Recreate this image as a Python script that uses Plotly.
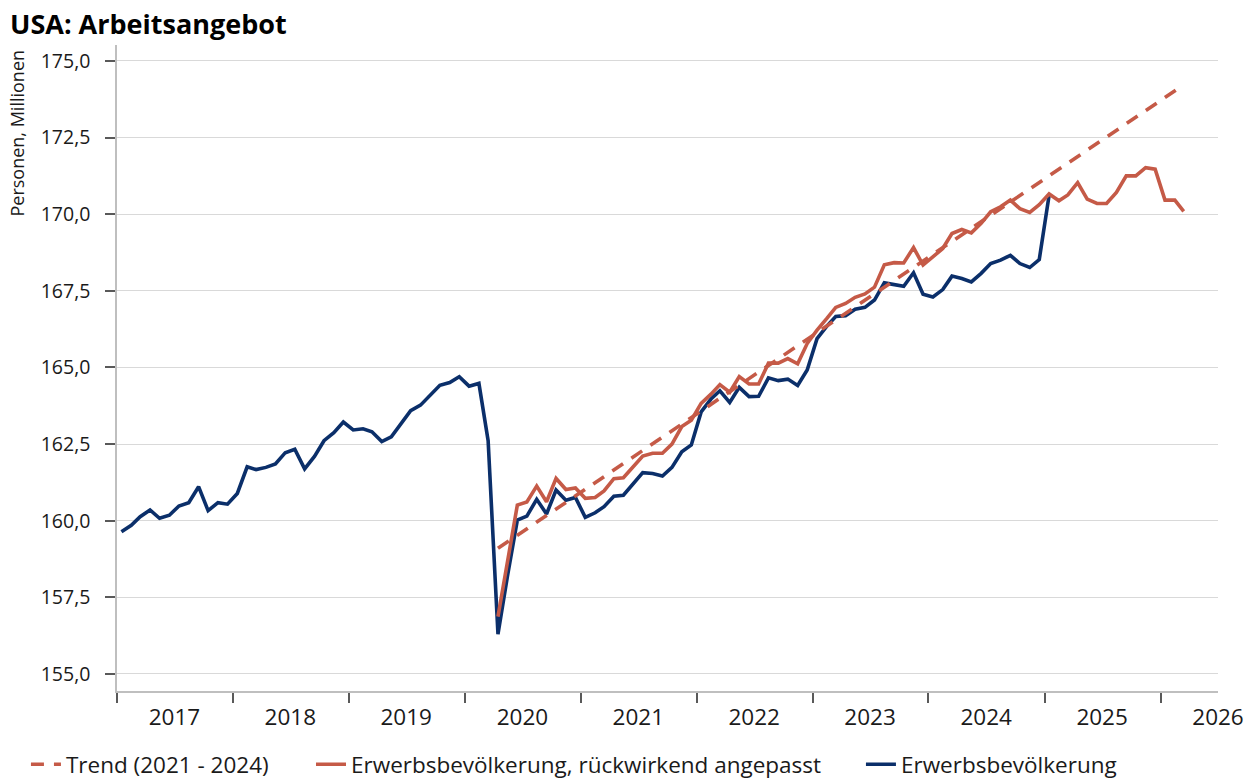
import pandas as pd
import plotly.graph_objects as go

# ---- data (monthly) ----
blue_start = "2017-01"
blue_values = [
    159.64, 159.85, 160.13, 160.35, 160.08, 160.18, 160.48, 160.59, 161.11, 160.33, 160.59, 160.54,  # 2017
    160.89, 161.76, 161.67, 161.74, 161.85, 162.22, 162.33, 161.69, 162.10, 162.61, 162.87, 163.22,  # 2018
    162.96, 163.00, 162.90, 162.58, 162.74, 163.15, 163.59, 163.77, 164.11, 164.42, 164.51, 164.70,  # 2019
    164.39, 164.48, 162.61, 156.30, 158.20, 160.02, 160.15, 160.70, 160.22, 161.00, 160.67, 160.76,  # 2020
    160.11, 160.26, 160.46, 160.80, 160.83, 161.20, 161.57, 161.54, 161.46, 161.74, 162.25, 162.47,  # 2021
    163.55, 163.97, 164.24, 163.86, 164.35, 164.05, 164.06, 164.66, 164.57, 164.62, 164.41, 164.92,  # 2022
    165.94, 166.35, 166.66, 166.69, 166.90, 166.96, 167.20, 167.76, 167.71, 167.65, 168.09, 167.39,  # 2023
    167.30, 167.54, 167.98, 167.90, 167.79, 168.07, 168.39, 168.50, 168.66, 168.39, 168.26, 168.52,  # 2024
    170.62,                                                                                          # 2025-01
]

red_start = "2020-04"
red_values = [
    156.87, 158.70, 160.51, 160.61, 161.13, 160.62, 161.38, 161.02, 161.07,                          # 2020 Apr-Dec
    160.73, 160.76, 160.97, 161.37, 161.40, 161.78, 162.11, 162.20, 162.20, 162.50, 163.07, 163.28,  # 2021
    163.83, 164.13, 164.44, 164.19, 164.70, 164.46, 164.46, 165.14, 165.14, 165.29, 165.12, 165.78,  # 2022
    166.22, 166.60, 166.96, 167.09, 167.29, 167.40, 167.62, 168.35, 168.42, 168.41, 168.91, 168.34,  # 2023
    168.61, 168.88, 169.37, 169.50, 169.39, 169.70, 170.08, 170.24, 170.46, 170.18, 170.06, 170.31,  # 2024
    170.66, 170.44, 170.63, 171.03, 170.49, 170.35, 170.35, 170.71, 171.25, 171.25, 171.52, 171.47,  # 2025
    170.46, 170.46, 170.09,                                                                          # 2026
]

trend_dates = ["2020-04-15", "2026-03-15"]
trend_values = [159.10, 174.22]

years = list(range(2017, 2027))
year_labels = [str(y) for y in years]

name_trend = "Trend (2021 - 2024)"
name_red = "Erwerbsbevölkerung, rückwirkend angepasst"
name_blue = "Erwerbsbevölkerung"

# ---- helpers ----
def month_dates(start, n):
    return pd.date_range(start=start + "-01", periods=n, freq="MS") + pd.Timedelta(days=14)

blue_dates = month_dates(blue_start, len(blue_values))
red_dates = month_dates(red_start, len(red_values))

RED = "#c55a47"
BLUE = "#0b2f6a"
FONT = "Open Sans"
LEG_FONT = dict(size=22.5, color="#1a1a1a", family=FONT)

fig = go.Figure()
fig.add_trace(go.Scatter(x=blue_dates, y=blue_values, mode="lines", name=name_blue,
                         legend="legend3", line=dict(color=BLUE, width=3.6)))
fig.add_trace(go.Scatter(x=red_dates, y=red_values, mode="lines", name=name_red,
                         legend="legend2", line=dict(color=RED, width=3.6)))
fig.add_trace(go.Scatter(x=trend_dates, y=trend_values, mode="lines", name=name_trend,
                         legend="legend", line=dict(color=RED, width=3.6, dash="13px,10px")))

leg_common = dict(orientation="h", xanchor="left", y=-0.114, yanchor="middle",
                  font=LEG_FONT, bgcolor="rgba(0,0,0,0)")

fig.update_layout(
    width=1248, height=779,
    margin=dict(l=117, r=30, t=45, b=88, autoexpand=False),
    paper_bgcolor="white", plot_bgcolor="white",
    separators=",.",
    font=dict(family=FONT, size=21, color="#1a1a1a"),
    showlegend=True,
    legend=dict(x=-0.0827, **leg_common),
    legend2=dict(x=0.1762, **leg_common),
    legend3=dict(x=0.6757, **leg_common),
    annotations=[
        dict(text="<b>USA: Arbeitsangebot</b>", xref="paper", yref="paper",
             x=-0.099, y=1.034, xanchor="left", yanchor="middle", showarrow=False,
             font=dict(size=27, color="black", family=FONT)),
        dict(text="Personen, Millionen", xref="paper", yref="paper", textangle=-90,
             x=-0.0917, y=0.863, xanchor="center", yanchor="middle", showarrow=False,
             font=dict(size=18, color="#1a1a1a", family=FONT)),
    ],
)

fig.update_xaxes(
    type="date", automargin=False,
    range=["2017-01-01", "2026-07-01"],
    tickvals=[f"{y}-07-01" for y in years],
    ticktext=year_labels,
    ticks="outside", ticklen=5, tickcolor="rgba(0,0,0,0)",
    showgrid=False, zeroline=False,
    showline=True, linecolor="#bfbfbf", linewidth=1.5,
    minor=dict(tickvals=[f"{y}-01-01" for y in years], ticks="outside", ticklen=10,
               tickcolor="#595959", tickwidth=1.5, showgrid=False),
    tickfont=dict(size=22.5),
)

fig.update_yaxes(
    automargin=False,
    range=[154.445, 175.52],
    tickvals=[155, 157.5, 160, 162.5, 165, 167.5, 170, 172.5, 175],
    tickformat=".1f",
    ticks="outside", ticklen=10, tickcolor="#595959", tickwidth=1.5,
    ticklabelstandoff=11,
    showgrid=True, gridcolor="#d9d9d9", gridwidth=1.3,
    zeroline=False,
    showline=True, linecolor="#bfbfbf", linewidth=1.5,
    tickfont=dict(size=19.5),
)

fig.write_html("out.html", config={"displayModeBar": False},
               post_script="document.body.style.margin='0px';")
